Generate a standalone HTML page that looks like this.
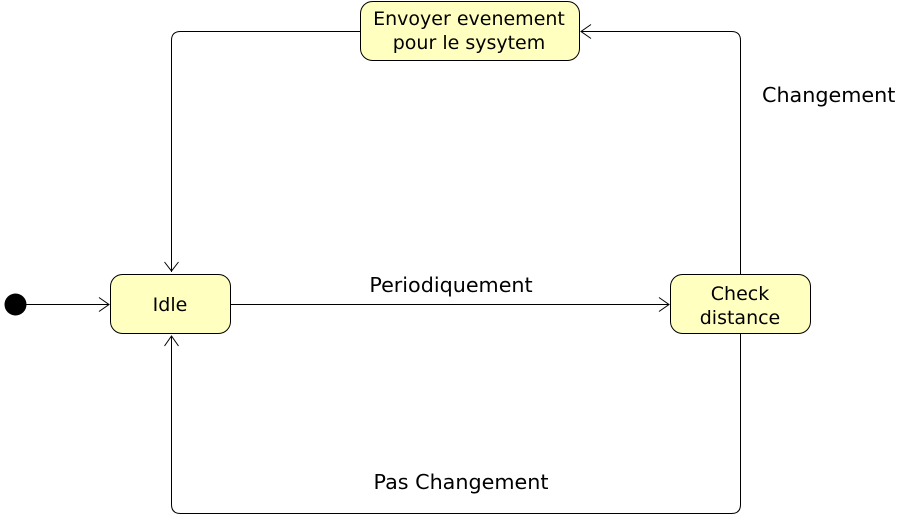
<!DOCTYPE html>
<html><head><meta charset="utf-8"><style>
html,body{margin:0;padding:0;background:#fff;}
svg{display:block;}
text{font-family:"DejaVu Sans","Liberation Sans",sans-serif;fill:#000;}
</style></head><body>
<svg width="897" height="526" viewBox="0 0 897 526" xmlns="http://www.w3.org/2000/svg">
<g fill="none" stroke="#000" stroke-width="1">
<path d="M360.5 31.5 H180.5 Q171.5 31.5 171.5 40.5 V272"/>
<path d="M164.5 262 L171.5 271 L178.5 262"/>
<path d="M740.5 274 V40.5 Q740.5 31.5 731.5 31.5 H581"/>
<path d="M591 24.5 L581 31.5 L591 38.5"/>
<path d="M740.5 334 V504.5 Q740.5 513.5 731.5 513.5 H180.5 Q171.5 513.5 171.5 504.5 V336"/>
<path d="M164.5 346 L171.5 336 L178.5 346"/>
<path d="M230 304.5 H669"/>
<path d="M659 297.5 L669 304.5 L659 311.5"/>
<path d="M26 304.5 H109"/>
<path d="M99 297.5 L109 304.5 L99 311.5"/>
</g>
<circle cx="15.5" cy="304.5" r="11" fill="#000"/>
<rect x="360.5" y="1.5" width="219" height="59" rx="12" fill="#ffffc0" stroke="#000"/>
<rect x="110.5" y="274.5" width="120" height="59" rx="12" fill="#ffffc0" stroke="#000"/>
<rect x="670.5" y="274.5" width="140" height="59" rx="12" fill="#ffffc0" stroke="#000"/>
<g font-size="19" text-anchor="middle">
<text x="469" y="25">Envoyer evenement</text>
<text x="469" y="49">pour le sysytem</text>
<text x="170" y="311">Idle</text>
<text x="740" y="300">Check</text>
<text x="740" y="324">distance</text>
</g>
<g font-size="20.7">
<text x="762" y="102">Changement</text>
<text x="451" y="292" text-anchor="middle">Periodiquement</text>
<text x="461" y="489" text-anchor="middle">Pas Changement</text>
</g>
</svg>
</body></html>
